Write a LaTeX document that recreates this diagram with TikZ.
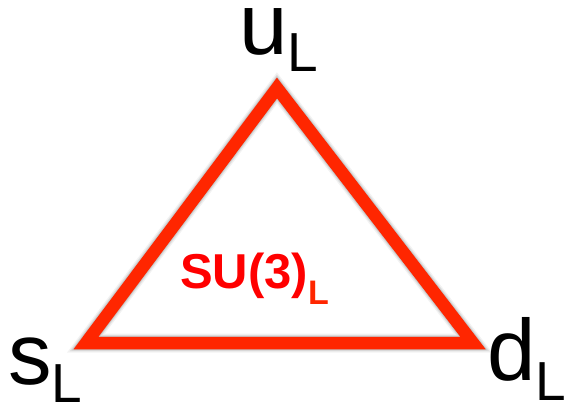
\documentclass[tikz,border=0pt]{standalone}
\usepackage{fontspec}
\setmainfont{Liberation Sans}
\definecolor{trired}{RGB}{255,38,0}
\definecolor{labred}{RGB}{255,0,0}
\newcommand{\subL}[2]{\raisebox{-#1}[0pt][#1]{\fontsize{#2}{#2}\selectfont L}}
\begin{document}
\begin{tikzpicture}[x=1pt,y=-1pt,
  edge/.style={draw=trired,line width=12.5pt,line join=miter},
  shadowedge/.style={draw=black,line join=miter},
  vlabel/.style={inner sep=0pt,anchor=base west,text depth=0pt,font=\fontsize{87}{87}\selectfont},
  grouplabel/.style={inner sep=0pt,anchor=base west,text=labred,font=\bfseries\fontsize{49}{49}\selectfont}]
\useasboundingbox (0,0) rectangle (567,403);
\fill[white] (0,0) rectangle (567,403);
\coordinate (top) at (277,88);
\coordinate (bl) at (86,343);
\coordinate (br) at (473,343);
% soft shadow
\begin{scope}[shift={(1,3)}]
\foreach \w/\o in {19/0.05,16.5/0.07,14.5/0.09,12.5/0.13}{
  \draw[shadowedge,line width=\w pt,opacity=\o] (top) -- (bl) -- (br) -- cycle;
}
\end{scope}
\draw[edge] (top) -- (bl) -- (br) -- cycle;
\node[vlabel] (u) at (239,55) {u\subL{17pt}{55}};
\node[vlabel] (s) at (8,384) {s\subL{18pt}{55}};
\node[vlabel] (d) at (487,380) {d\subL{20pt}{55}};
\node[grouplabel] (su) at (180,288) {SU(3)\raisebox{-16pt}{\textcolor{trired}{\fontsize{34}{34}\selectfont L}}};
\end{tikzpicture}
\end{document}
